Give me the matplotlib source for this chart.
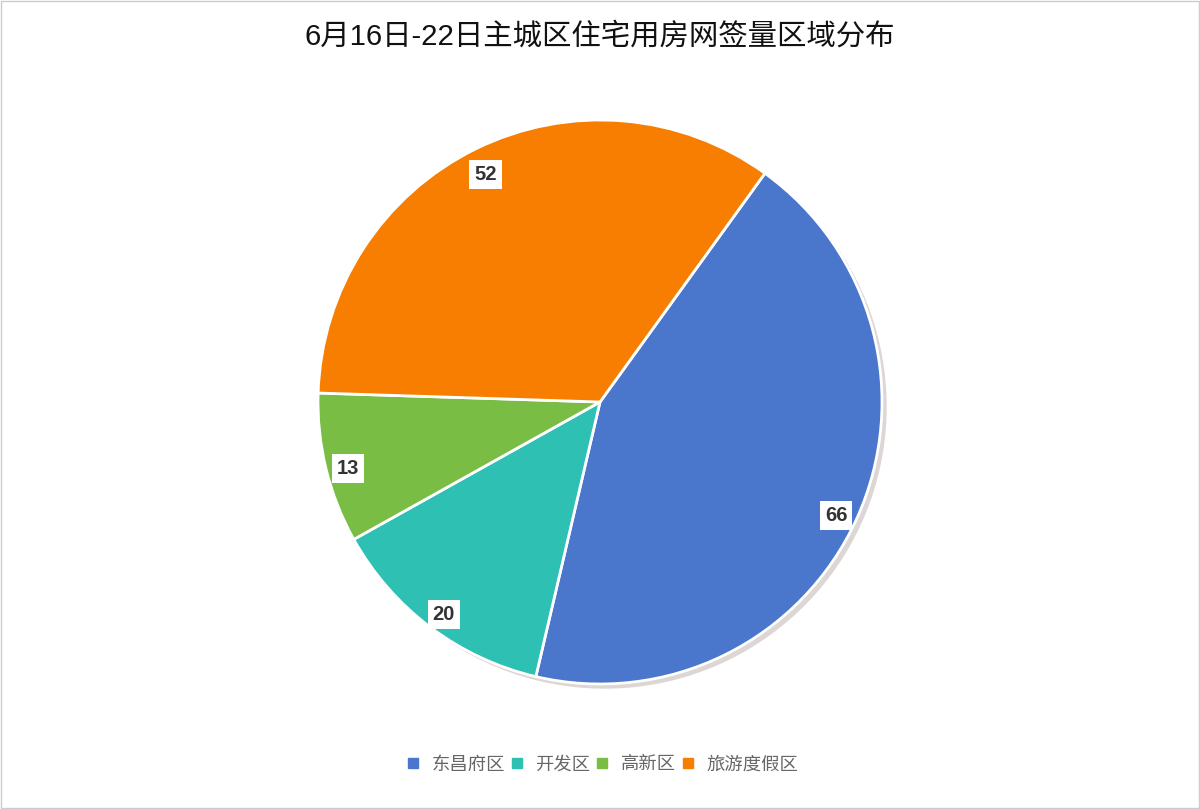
import matplotlib.pyplot as plt
from matplotlib.lines import Line2D
from matplotlib.patches import Rectangle
import numpy as np

plt.rcParams['font.family'] = ['Liberation Sans', 'Noto Sans CJK SC', 'DejaVu Sans']

title = '6月16日-22日主城区住宅用房网签量区域分布'
districts = ['东昌府区', '开发区', '高新区', '旅游度假区']
counts = [66, 20, 13, 52]
colors = ['#4A76CC', '#2FC0B4', '#79BD45', '#F77E00']

fig = plt.figure(figsize=(12, 8.09), dpi=100)
# pie sits at x=600px, y=402px, radius about 282px
r_px = 282
ax = fig.add_axes([(600 - r_px) / 1200, (809 - 402 - r_px) / 809, 2 * r_px / 1200, 2 * r_px / 809])
ax.set_aspect('equal')
ax.axis('off')

wedges, _ = ax.pie(counts, colors=colors, startangle=54.2, counterclock=False, radius=1,
                   wedgeprops=dict(edgecolor='white', linewidth=2),
                   shadow=dict(ox=0.012, oy=-0.012, facecolor='#9c8c84', edgecolor='none', alpha=0.35))
ax.set_xlim(-1, 1)
ax.set_ylim(-1, 1)

# value labels near the outer edge in little white boxes
for w, v in zip(wedges, counts):
    mid = np.deg2rad((w.theta1 + w.theta2) / 2)
    ax.text(0.92 * np.cos(mid), 0.92 * np.sin(mid) - 0.02, str(v), ha='center', va='center',
            fontsize=14.5, fontweight='bold', color='#333333',
            bbox=dict(facecolor='white', edgecolor='none', boxstyle='square,pad=0.25'))

fig.text(0.5, 1 - 37 / 809, title, ha='center', va='center', fontsize=21.2, color='#111111')

handles = [Line2D([], [], marker='s', linestyle='none', markersize=6.5, color=c) for c in colors]
fig.legend(handles, districts, loc='center', bbox_to_anchor=(0.5, 1 - 765 / 809), ncol=4,
           frameon=False, fontsize=13.2, labelcolor='#666666', handletextpad=0.4,
           columnspacing=0.05, handlelength=1.2)

# thin grey frame around the whole picture
fig.patches.append(Rectangle((0.001, 0.001), 0.998, 0.998, transform=fig.transFigure,
                             fill=False, edgecolor='#cccccc', linewidth=1))

fig.savefig('out.png', dpi=100)
